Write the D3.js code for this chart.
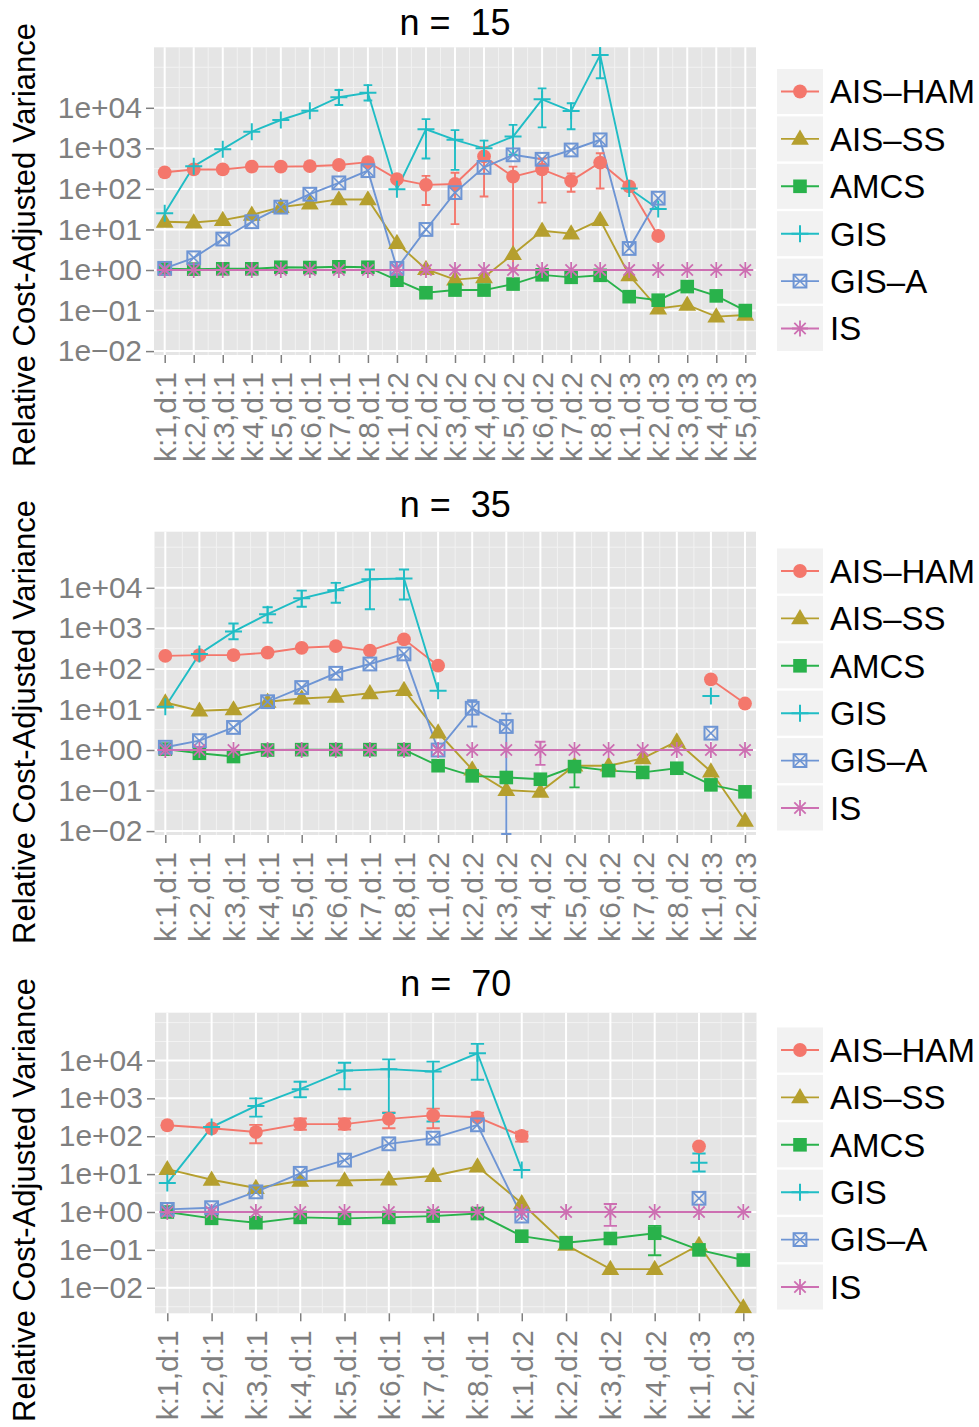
<!DOCTYPE html>
<html>
<head>
<meta charset="utf-8">
<script src="https://cdn.jsdelivr.net/npm/d3@7"></script>
<style>
  body { margin: 0; background: #ffffff; }
  svg { display: block; }
</style>
</head>
<body>
<script>
// series (legend order) and colours
var series_names = ["AIS\u2013HAM", "AIS\u2013SS", "AMCS", "GIS", "GIS\u2013A", "IS"];
var series_colors = ["#f4776c", "#b59f2e", "#29b24b", "#20bdc5", "#6e95d4", "#cd6fb2"];

// y ticks
var y_ticks = [0.01, 0.1, 1, 10, 100, 1000, 10000];
var y_tick_labels = ["1e\u221202", "1e\u221201", "1e+00", "1e+01", "1e+02", "1e+03", "1e+04"];

// ---- n = 15 ----
var cats_15 = ["k:1,d:1","k:2,d:1","k:3,d:1","k:4,d:1","k:5,d:1","k:6,d:1","k:7,d:1","k:8,d:1",
               "k:1,d:2","k:2,d:2","k:3,d:2","k:4,d:2","k:5,d:2","k:6,d:2","k:7,d:2","k:8,d:2",
               "k:1,d:3","k:2,d:3","k:3,d:3","k:4,d:3","k:5,d:3"];
var ais_ham_15 = [257, 302, 302, 355, 355, 363, 389, 457, 174, 126, 132, 631, 200, 302, 158, 447, 115, 6.9, null, null, null];
var ais_ss_15  = [15.5, 14.8, 17, 23, 35.5, 43.7, 55, 55, 4.6, 1.05, 0.58, 0.66, 2.45, 9.3, 7.9, 17, 0.74, 0.112, 0.138, 0.071, 0.078];
var amcs_15    = [1.07, 1.05, 1.07, 1.07, 1.17, 1.15, 1.2, 1.17, 0.56, 0.275, 0.32, 0.32, 0.45, 0.76, 0.66, 0.74, 0.22, 0.18, 0.39, 0.23, 0.1];
var gis_15     = [25, 363, 955, 2570, 5000, 8500, 18200, 23400, 98, 2950, 1620, 1000, 1950, 16200, 8300, 200000, 102, 32, null, null, null];
var gis_a_15   = [1.1, 2.0, 5.8, 15.5, 35.5, 74, 141, 282, 1.1, 10, 81, 339, 692, 537, 912, 1620, 3.4, 59, null, null, null];
var is_15      = [1, 1, 1, 1, 1, 1, 1, 1, 1, 1, 1, 1, 1, 1, 1, 1, 1, 1, 1, 1, 1];
// [series index, category index, low, high]
var errors_15 = [
  [0, 9, 40, 209], [0, 10, 13.5, 251], [0, 11, 65, 1070], [0, 12, 1.1, 355],
  [0, 13, 46, 560], [0, 14, 85, 240], [0, 15, 102, 760],
  [3, 6, 11700, 27500], [3, 7, 15100, 36300], [3, 9, 560, 5250], [3, 10, 295, 2820],
  [3, 11, 600, 1550], [3, 12, 700, 3800], [3, 13, 3300, 30200], [3, 14, 2950, 12900],
  [3, 15, 53700, 400000]
];

// ---- n = 35 ----
var cats_35 = ["k:1,d:1","k:2,d:1","k:3,d:1","k:4,d:1","k:5,d:1","k:6,d:1","k:7,d:1","k:8,d:1",
               "k:1,d:2","k:2,d:2","k:3,d:2","k:4,d:2","k:5,d:2","k:6,d:2","k:7,d:2","k:8,d:2",
               "k:1,d:3","k:2,d:3"];
var ais_ham_35 = [209, 219, 219, 251, 331, 363, 282, 537, 120, null, null, null, null, null, null, null, 55, 14];
var ais_ss_35  = [14.8, 9.3, 10, 15.5, 18.6, 20.4, 25, 30, 2.7, 0.33, 0.102, 0.093, 0.41, 0.41, 0.62, 1.62, 0.295, 0.018];
var amcs_35    = [1.05, 0.83, 0.69, 1.0, 1.02, 1.02, 1.02, 1.02, 0.41, 0.23, 0.21, 0.19, 0.39, 0.31, 0.28, 0.355, 0.138, 0.093];
var gis_35     = [11.7, 234, 830, 2240, 5500, 8700, 16200, 17000, 29, null, null, null, null, null, null, null, 21.4, null];
var gis_a_35   = [1.17, 1.7, 3.6, 15.5, 34.7, 78, 132, 234, 1.0, 10.7, 3.8, null, null, null, null, null, 2.6, null];
var is_35      = [1, 1, 1, 1, 1, 1, 1, 1, 1, 1, 1, 1, 1, 1, 1, 1, 1, 1];
var errors_35 = [
  [3, 2, 540, 1320], [3, 3, 1380, 3300], [3, 4, 3400, 8500], [3, 5, 4270, 13200],
  [3, 6, 2950, 28200], [3, 7, 5130, 28200],
  [4, 9, 3.8, 17], [4, 10, 0.0085, 7.9],
  [2, 12, 0.12, 0.5], [5, 11, 0.43, 1.6]
];

// ---- n = 70 ----
var cats_70 = ["k:1,d:1","k:2,d:1","k:3,d:1","k:4,d:1","k:5,d:1","k:6,d:1","k:7,d:1","k:8,d:1",
               "k:1,d:2","k:2,d:2","k:3,d:2","k:4,d:2","k:1,d:3","k:2,d:3"];
var ais_ham_70 = [195, 162, 129, 209, 209, 288, 355, 316, 102, null, null, null, 54, null];
var ais_ss_70  = [13.5, 7.1, 4.3, 6.6, 6.8, 7.2, 8.9, 15.8, 1.7, 0.135, 0.031, 0.031, 0.135, 0.003];
var amcs_70    = [1.0, 0.68, 0.52, 0.72, 0.68, 0.72, 0.78, 0.91, 0.23, 0.155, 0.2, 0.275, 0.1, 0.054];
var gis_70     = [5.8, 174, 630, 1740, 5400, 5900, 5100, 15500, 12.9, null, null, null, 20, null];
var gis_a_70   = [1.17, 1.3, 3.4, 10.5, 23.4, 63, 89, 200, 0.78, null, null, null, 2.3, null];
var is_70      = [1, 1, 1, 1, 1, 1, 1, 1, 1, 1, 1, 1, 1, 1];
var errors_70 = [
  [0, 2, 65, 200], [0, 3, 148, 295], [0, 4, 150, 295], [0, 5, 162, 427],
  [0, 6, 162, 537], [0, 7, 269, 417], [0, 8, 72, 132],
  [3, 2, 330, 1000], [3, 3, 1070, 2750], [3, 4, 1740, 8700], [3, 5, 410, 10700],
  [3, 6, 245, 9300], [3, 7, 3100, 27500], [3, 12, 11.7, 35],
  [2, 11, 0.072, 0.43], [5, 10, 0.43, 1.62]
];

var panels = [
  {title: "n =  15", cats: cats_15, values: [ais_ham_15, ais_ss_15, amcs_15, gis_15, gis_a_15, is_15], errors: errors_15,
   left: 154, right: 756, top: 47.3, bottom: 355, x0: 164.7, x1: 745.3, ylo: -2.096, yhi: 5.492,
   title_y: 35, ylab_y: 245, legend_y: 91.5},
  {title: "n =  35", cats: cats_35, values: [ais_ham_35, ais_ss_35, amcs_35, gis_35, gis_a_35, is_35], errors: errors_35,
   left: 154.5, right: 756, top: 531.7, bottom: 835, x0: 165.3, x1: 745, ylo: -2.096, yhi: 5.383,
   title_y: 517, ylab_y: 722, legend_y: 571},
  {title: "n =  70", cats: cats_70, values: [ais_ham_70, ais_ss_70, amcs_70, gis_70, gis_a_70, is_70], errors: errors_70,
   left: 155, right: 756.5, top: 1012.7, bottom: 1313.3, x0: 167.3, x1: 743.3, ylo: -2.674, yhi: 5.261,
   title_y: 996, ylab_y: 1200, legend_y: 1050}
];

var w = 979, h = 1427;
var font = "'Liberation Sans', Arial, Helvetica, sans-serif";
var bg_color = "#e5e5e5";
var axis_text_color = "#7f7f7f";
var legend_step = 47.4;

var svg = d3.select("body").append("svg").attr("width", w).attr("height", h);

// marker shapes, one per series
var place_marker = function(g, shape, x, y, color){
  if (shape == 0){
    g.append("circle").attr("cx", x).attr("cy", y).attr("r", 6.9).attr("fill", color);
  } else if (shape == 1){
    g.append("path").attr("d", "M" + x + "," + (y - 9.3) + "L" + (x + 8.9) + "," + (y + 5.9) + "L" + (x - 8.9) + "," + (y + 5.9) + "Z")
      .attr("fill", color);
  } else if (shape == 2){
    g.append("rect").attr("x", x - 6.8).attr("y", y - 6.8).attr("width", 13.6).attr("height", 13.6).attr("fill", color);
  } else if (shape == 3){
    g.append("path").attr("d", "M" + (x - 8.5) + "," + y + "H" + (x + 8.5) + "M" + x + "," + (y - 8.5) + "V" + (y + 8.5))
      .attr("stroke", color).attr("stroke-width", 2).attr("fill", "none");
  } else if (shape == 4){
    var s = 6.4;
    g.append("rect").attr("x", x - s).attr("y", y - s).attr("width", 2 * s).attr("height", 2 * s)
      .attr("fill", "none").attr("stroke", color).attr("stroke-width", 2);
    g.append("path").attr("d", "M" + (x - s) + "," + (y - s) + "L" + (x + s) + "," + (y + s) + "M" + (x + s) + "," + (y - s) + "L" + (x - s) + "," + (y + s))
      .attr("stroke", color).attr("stroke-width", 1.6).attr("fill", "none");
  } else {
    var a = 8, b = 5.7;
    g.append("path").attr("d", "M" + (x - a) + "," + y + "H" + (x + a) + "M" + x + "," + (y - a) + "V" + (y + a) +
        "M" + (x - b) + "," + (y - b) + "L" + (x + b) + "," + (y + b) + "M" + (x + b) + "," + (y - b) + "L" + (x - b) + "," + (y + b))
      .attr("stroke", color).attr("stroke-width", 1.8).attr("fill", "none");
  }
};

panels.forEach(function(p, pi){
  var g = svg.append("g");

  var x = d3.scalePoint().domain(p.cats).range([p.x0, p.x1]);
  var y = d3.scaleLog().domain([Math.pow(10, p.ylo), Math.pow(10, p.yhi)]).range([p.bottom, p.top]);
  var step = x.step();

  // panel background
  g.append("rect").attr("x", p.left).attr("y", p.top)
    .attr("width", p.right - p.left).attr("height", p.bottom - p.top).attr("fill", bg_color);

  // minor grid: half decades, and between categories
  var minor_y = d3.range(-6, 13).map(function(k){ return Math.pow(10, k / 2); })
    .filter(function(v){ return y(v) > p.top && y(v) < p.bottom; });
  g.selectAll(".minor-y").data(minor_y).enter().append("line")
    .attr("x1", p.left).attr("x2", p.right)
    .attr("y1", function(d){ return y(d); }).attr("y2", function(d){ return y(d); })
    .attr("stroke", "#f2f2f2").attr("stroke-width", 1);
  var minor_x = p.cats.slice(1).map(function(c){ return x(c) - step / 2; });
  g.selectAll(".minor-x").data(minor_x).enter().append("line")
    .attr("y1", p.top).attr("y2", p.bottom)
    .attr("x1", function(d){ return d; }).attr("x2", function(d){ return d; })
    .attr("stroke", "#f2f2f2").attr("stroke-width", 1);

  // major grid
  g.selectAll(".major-y").data(y_ticks).enter().append("line")
    .attr("x1", p.left).attr("x2", p.right)
    .attr("y1", function(d){ return y(d); }).attr("y2", function(d){ return y(d); })
    .attr("stroke", "#ffffff").attr("stroke-width", 2);
  g.selectAll(".major-x").data(p.cats).enter().append("line")
    .attr("y1", p.top).attr("y2", p.bottom)
    .attr("x1", function(d){ return x(d); }).attr("x2", function(d){ return x(d); })
    .attr("stroke", "#ffffff").attr("stroke-width", 2);

  // y axis
  var yAxis = d3.axisLeft(y).tickValues(y_ticks)
    .tickFormat(function(d, i){ return y_tick_labels[i]; }).tickSize(8).tickPadding(4);
  var ya = g.append("g").attr("transform", "translate(" + p.left + ",0)").call(yAxis);
  ya.select(".domain").remove();
  ya.selectAll("line").attr("stroke", axis_text_color).attr("stroke-width", 1.5);
  ya.selectAll("text").attr("fill", axis_text_color).attr("font-family", font).attr("font-size", 30);

  // x axis
  var xAxis = d3.axisBottom(x).tickSize(8).tickPadding(0);
  var xa = g.append("g").attr("transform", "translate(0," + p.bottom + ")").call(xAxis);
  xa.select(".domain").remove();
  xa.selectAll("line").attr("stroke", axis_text_color).attr("stroke-width", 1.5);
  xa.selectAll("text").attr("fill", axis_text_color).attr("font-family", font).attr("font-size", 30)
    .attr("text-anchor", "end").attr("dy", null)
    .attr("transform", "translate(0,17) rotate(-90)")
    .attr("dominant-baseline", "central").attr("y", 0).attr("x", 0);

  // y title
  g.append("text").attr("transform", "translate(35," + p.ylab_y + ") rotate(-90)")
    .attr("text-anchor", "middle").attr("font-family", font).attr("font-size", 31).attr("fill", "#000")
    .text("Relative Cost-Adjusted Variance");

  // panel title
  g.append("text").attr("x", (p.left + p.right) / 2).attr("y", p.title_y)
    .attr("text-anchor", "middle").attr("font-family", font).attr("font-size", 36).attr("fill", "#000")
    .style("white-space", "pre").text(p.title);

  // data layers, clipped to the panel
  var clip_id = "clip" + pi;
  g.append("clipPath").attr("id", clip_id).append("rect")
    .attr("x", p.left).attr("y", p.top).attr("width", p.right - p.left).attr("height", p.bottom - p.top);
  var data_g = g.append("g").attr("clip-path", "url(#" + clip_id + ")");

  var line = d3.line()
    .defined(function(d){ return d.v != null; })
    .x(function(d){ return x(d.c); })
    .y(function(d){ return y(d.v); });

  p.values.forEach(function(vals, si){
    var pts = vals.map(function(v, i){ return {c: p.cats[i], v: v}; });
    data_g.append("path").datum(pts).attr("d", line)
      .attr("fill", "none").attr("stroke", series_colors[si]).attr("stroke-width", 1.9);
  });

  // error bars
  var cap = step * 0.3;
  p.errors.forEach(function(e){
    var cx = x(p.cats[e[1]]);
    var y_lo = y(e[2]), y_hi = y(e[3]);
    data_g.append("path")
      .attr("d", "M" + cx + "," + y_lo + "V" + y_hi +
                 "M" + (cx - cap / 2) + "," + y_lo + "H" + (cx + cap / 2) +
                 "M" + (cx - cap / 2) + "," + y_hi + "H" + (cx + cap / 2))
      .attr("fill", "none").attr("stroke", series_colors[e[0]]).attr("stroke-width", 1.9);
  });

  // points
  p.values.forEach(function(vals, si){
    vals.forEach(function(v, i){
      if (v == null) return;
      place_marker(data_g, si, x(p.cats[i]), y(v), series_colors[si]);
    });
  });

  // legend
  var lg = g.append("g");
  series_names.forEach(function(name, si){
    var cy = p.legend_y + si * legend_step;
    lg.append("rect").attr("x", 777).attr("y", cy - 22.5).attr("width", 46).attr("height", 45).attr("fill", "#f2f2f2");
    lg.append("line").attr("x1", 781).attr("x2", 819).attr("y1", cy).attr("y2", cy)
      .attr("stroke", series_colors[si]).attr("stroke-width", 1.9);
    place_marker(lg, si, 800, cy, series_colors[si]);
    lg.append("text").attr("x", 830).attr("y", cy).attr("dy", "0.36em")
      .attr("font-family", font).attr("font-size", 33).attr("fill", "#000").text(name);
  });
});
</script>
</body>
</html>
